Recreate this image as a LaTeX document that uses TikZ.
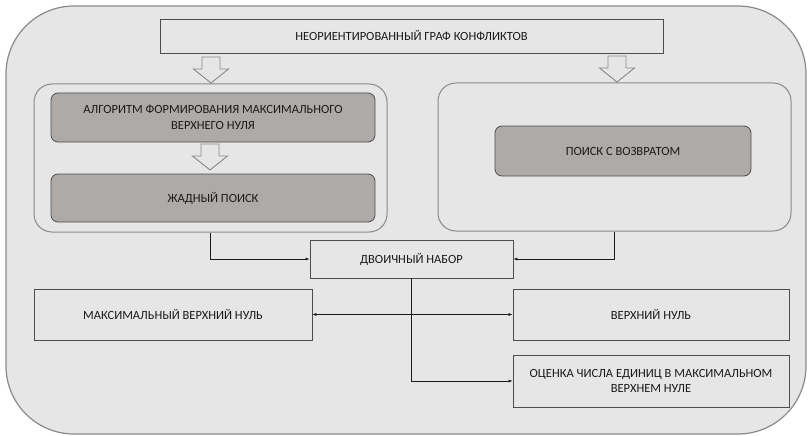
\documentclass[tikz,border=0pt]{standalone}
\usepackage{fontspec}
\setmainfont{Carlito}
\usetikzlibrary{arrows.meta}
\definecolor{bg}{HTML}{E6E6E6}
\definecolor{dark}{HTML}{AEAAA8}
\definecolor{edge}{HTML}{4D4D4D}
\definecolor{soft}{HTML}{8A8A8A}
\definecolor{txt}{HTML}{1A1A1A}
\begin{document}
\begin{tikzpicture}[x=1pt,y=-1pt,
  plainbox/.style={draw=edge,fill=bg,line width=0.8pt,text=txt,font=\fontsize{12.5}{15}\selectfont,align=center,inner sep=0pt},
  darkbox/.style={draw=edge,fill=dark,line width=0.8pt,rounded corners=7pt,text=txt,font=\fontsize{12.5}{16}\selectfont,align=center,inner sep=0pt},
  groupbox/.style={draw=soft,fill=bg,line width=1pt,rounded corners=18pt,inner sep=0pt},
  conn/.style={draw=txt,line width=0.6pt,-{Latex[length=4pt,width=3pt]}},
  hollow/.pic={\draw[soft,fill=bg,line width=0.9pt,line join=miter] (-9,0) -- (9,0) -- (9,12) -- (17.5,12) -- (0,26) -- (-17.5,12) -- (-9,12) -- cycle;}
]
\useasboundingbox (0,0) rectangle (809,436);
\draw[soft,fill=bg,line width=1.2pt,rounded corners=68pt] (6,6) rectangle (806,434);

\node[plainbox,minimum width=503pt,minimum height=34pt] (top) at (411.5,36) {НЕОРИЕНТИРОВАННЫЙ ГРАФ КОНФЛИКТОВ};

\node[groupbox,minimum width=353pt,minimum height=148pt] (lg) at (210.5,158) {};
\node[groupbox,minimum width=353pt,minimum height=148pt] (rg) at (614.5,157) {};

\node[darkbox,minimum width=324pt,minimum height=49pt] (alg) at (213,117.5) {АЛГОРИТМ ФОРМИРОВАНИЯ МАКСИМАЛЬНОГО\\ВЕРХНЕГО НУЛЯ};
\node[darkbox,minimum width=324pt,minimum height=48pt] (greedy) at (213,198) {ЖАДНЫЙ ПОИСК};
\node[darkbox,minimum width=256pt,minimum height=50pt] (back) at (623,151) {ПОИСК С ВОЗВРАТОМ};

\node[plainbox,minimum width=203pt,minimum height=38pt] (bin) at (411.5,259) {ДВОИЧНЫЙ НАБОР};
\node[plainbox,minimum width=278pt,minimum height=51pt] (maxz) at (173,314.5) {МАКСИМАЛЬНЫЙ ВЕРХНИЙ НУЛЬ};
\node[plainbox,minimum width=276pt,minimum height=51pt] (upz) at (651,314.5) {ВЕРХНИЙ НУЛЬ};
\node[plainbox,minimum width=276pt,minimum height=52pt] (est) at (651,381) {ОЦЕНКА ЧИСЛА ЕДИНИЦ В МАКСИМАЛЬНОМ\\ВЕРХНЕМ НУЛЕ};

\pic at (211,57) {hollow};
\pic at (617,56) {hollow};
\pic at (210,144) {hollow};

\draw[conn] (lg.south) |- (bin.west);
\draw[conn] (rg.south) |- (bin.east);
\draw[conn] (bin.south) |- (est.west);
\draw[draw=txt,line width=0.6pt,{Latex[length=4pt,width=3pt]}-{Latex[length=4pt,width=3pt]}] (maxz.east) -- (upz.west);
\end{tikzpicture}
\end{document}
